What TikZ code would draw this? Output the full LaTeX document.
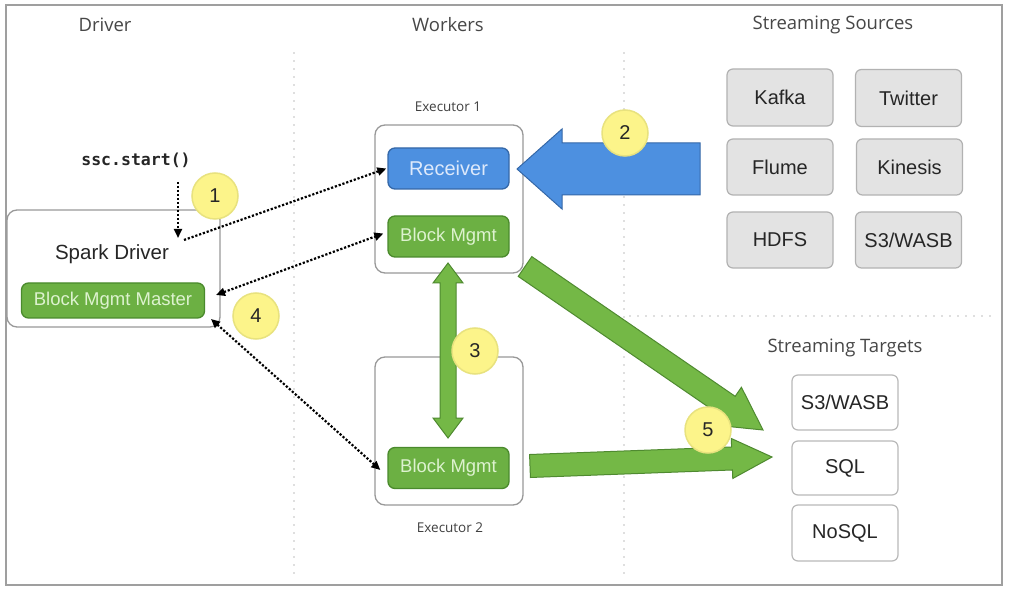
\documentclass[tikz,border=0pt]{standalone}
\usepackage{fontspec}
\setmainfont{Liberation Sans}
\newfontfamily\hdrfont{Open Sans}
\newfontfamily\codefont{DejaVu Sans Mono}
\usetikzlibrary{calc,arrows.meta}
\definecolor{grnF}{HTML}{6CB043}
\definecolor{grnD}{HTML}{4A8A2C}
\definecolor{grnT}{HTML}{DDF2CF}
\definecolor{bluF}{HTML}{4D90E0}
\definecolor{bluD}{HTML}{3568A8}
\definecolor{bluT}{HTML}{DDE9FB}
\definecolor{yelF}{HTML}{FCF48A}
\definecolor{yelD}{HTML}{E8E27E}
\definecolor{arrF}{HTML}{74B846}
\definecolor{arrD}{HTML}{4F8A30}
\tikzset{
  frame/.style={draw=gray!75, line width=1.6pt},
  sepline/.style={draw=gray!50, line width=1.6pt, line cap=round, dash pattern=on 0pt off 8pt},
  hdr/.style={font=\hdrfont\fontsize{18.5}{22}\selectfont, text=black!72},
  exlbl/.style={font=\hdrfont\fontsize{13.5}{16}\selectfont, text=black!75},
  outerbox/.style={draw=gray!80, rounded corners=10pt, line width=1.3pt},
  srcbox/.style={draw=gray!60, fill=gray!22, rounded corners=6pt, line width=1.2pt, minimum width=106pt, minimum height=57pt, font=\fontsize{20}{24}\selectfont, text=black!85},
  tgtbox/.style={draw=gray!55, fill=white, rounded corners=6pt, line width=1.2pt, minimum width=106pt, minimum height=55pt, font=\fontsize{20}{24}\selectfont, text=black!85},
  grnbox/.style={draw=grnD, fill=grnF, rounded corners=7pt, line width=1.3pt, text=grnT, font=\fontsize{18.5}{22}\selectfont},
  blubox/.style={draw=bluD, fill=bluF, rounded corners=7pt, line width=1.3pt, text=bluT, font=\fontsize{20}{24}\selectfont},
  numc/.style={circle, fill=yelF, draw=yelD, line width=1.5pt, minimum size=46pt, inner sep=0pt, font=\fontsize{20}{24}\selectfont, text=black!85},
  dotarr/.style={line width=2.2pt, dash pattern=on 2.2pt off 1.8pt, -{Triangle[length=9pt,width=8pt]}},
  dotdbl/.style={line width=2.2pt, dash pattern=on 2.2pt off 1.8pt, {Triangle[length=9pt,width=8pt]}-{Triangle[length=9pt,width=8pt]}},
  fatgrn/.style={fill=arrF, draw=arrD, line width=1pt, line join=miter},
  fatblu/.style={fill=bluF, draw=bluD, line width=1pt, line join=miter},
}
\newcommand\fatarr[6]{%
  \coordinate (#2-#3-c) at ($(#3)!#6!(#2)$);
  \filldraw[#1] ($(#2)!#4!90:(#3)$) -- ($(#2-#3-c)!#4!90:(#3)$) -- ($(#2-#3-c)!#5!90:(#3)$) -- (#3) -- ($(#2-#3-c)!#5!-90:(#3)$) -- ($(#2-#3-c)!#4!-90:(#3)$) -- ($(#2)!#4!-90:(#3)$) -- cycle;
}
\newcommand\dblarr[6]{%
  \coordinate (#2-#3-ca) at ($(#2)!#6!(#3)$);
  \coordinate (#2-#3-cb) at ($(#3)!#6!(#2)$);
  \filldraw[#1] (#2) -- ($(#2-#3-ca)!#5!90:(#3)$) -- ($(#2-#3-ca)!#4!90:(#3)$) -- ($(#2-#3-cb)!#4!90:(#3)$) -- ($(#2-#3-cb)!#5!90:(#3)$) -- (#3) -- ($(#2-#3-cb)!#5!-90:(#3)$) -- ($(#2-#3-cb)!#4!-90:(#3)$) -- ($(#2-#3-ca)!#4!-90:(#3)$) -- ($(#2-#3-ca)!#5!-90:(#3)$) -- cycle;
}
\begin{document}
\begin{tikzpicture}[x=1pt,y=-1pt]
\useasboundingbox[fill=white] (0,0) rectangle (1009,593);
\draw[frame] (6,5) rectangle (1002,585);
% separators
\draw[sepline] (294,53) -- (294,578);
\draw[sepline] (624,53) -- (624,578);
\draw[sepline] (630,316) -- (995,316);
% headers
\node[hdr] (hdrv) at (105,25) {Driver};
\node[hdr] (hwrk) at (448,25) {Workers};
\node[hdr] (hsrc) at (833,25) {Streaming Sources};
\node[hdr] (htgt) at (845,348) {Streaming Targets};
% driver
\node[outerbox, minimum width=213pt, minimum height=117pt] (drv) at (113.5,268.5) {};
\node[font=\fontsize{20.5}{24}\selectfont, text=black!85] (drvl) at (112,254) {Spark Driver};
\node[grnbox, minimum width=183pt, minimum height=35pt] (bmm) at (113,300.5) {Block Mgmt Master};
\node[font=\codefont\bfseries\fontsize{16.5}{20}\selectfont, text=black!85] (ssc) at (136,160) {ssc.start()};
% executors
\node[outerbox, minimum width=148pt, minimum height=148pt] (ex1) at (449,199) {};
\node[exlbl] (ex1l) at (448,107) {Executor 1};
\node[blubox, minimum width=121pt, minimum height=41pt] (rcv) at (448.5,168.5) {Receiver};
\node[grnbox, minimum width=121pt, minimum height=41pt] (bm1) at (448.5,236.5) {Block Mgmt};
\node[outerbox, minimum width=148pt, minimum height=148pt] (ex2) at (449,431) {};
\node[exlbl] (ex2l) at (450,528) {Executor 2};
\node[grnbox, minimum width=121pt, minimum height=41pt] (bm2) at (448.5,468) {Block Mgmt};
% sources
\node[srcbox] (kafka) at (780,97.5) {Kafka};
\node[srcbox] (twit) at (908.5,98) {Twitter};
\node[srcbox, minimum height=56pt] (flume) at (780,167) {Flume};
\node[srcbox, minimum height=56pt] (kin) at (909.5,167) {Kinesis};
\node[srcbox, minimum height=56pt] (hdfs) at (780,240) {HDFS};
\node[srcbox, minimum height=56pt] (s3s) at (908.5,240) {S3/WASB};
% targets
\node[tgtbox] (s3t) at (845,402.5) {S3/WASB};
\node[tgtbox, minimum height=54pt] (sql) at (845,468) {SQL};
\node[tgtbox, minimum height=56pt] (nosql) at (845,533) {NoSQL};
% dotted connectors
\coordinate (sscd) at (178,182);
\coordinate (sscend) at (178,238);
\coordinate (d1) at (184,240);
\coordinate (bmmin) at (216,295);
\coordinate (bmmlow) at (211,319);
\draw[dotarr] (sscd) -- (sscend);
\draw[dotarr] (d1) -- ([xshift=-1pt]rcv.west);
\draw[dotdbl] (bmmin) -- ([xshift=-4pt,yshift=3pt]bm1.west);
\draw[dotdbl] (bmmlow) -- ([xshift=-7pt,yshift=-2pt]bm2.west);
% fat arrows
\coordinate (a2s) at (700,169);
\coordinate (a2e) at (517,169);
\coordinate (a3s) at (448,263);
\coordinate (a3e) at (448,438);
\coordinate (a5s) at (525,266.5);
\coordinate (a5e) at (763,430);
\coordinate (a6s) at (530,466);
\coordinate (a6e) at (772,457);
\fatarr{fatblu}{a2s}{a2e}{26pt}{40pt}{45pt}
\dblarr{fatgrn}{a3s}{a3e}{8pt}{15pt}{20pt}
\fatarr{fatgrn}{a5s}{a5e}{12pt}{23pt}{42pt}
\fatarr{fatgrn}{a6s}{a6e}{11.5pt}{20pt}{40pt}
% numbered circles
\node[numc] (n1) at (215,196) {1};
\node[numc] (n2) at (625,133) {2};
\node[numc] (n3) at (475,351) {3};
\node[numc] (n4) at (256,316) {4};
\node[numc] (n5) at (708,430) {5};
\end{tikzpicture}
\end{document}
